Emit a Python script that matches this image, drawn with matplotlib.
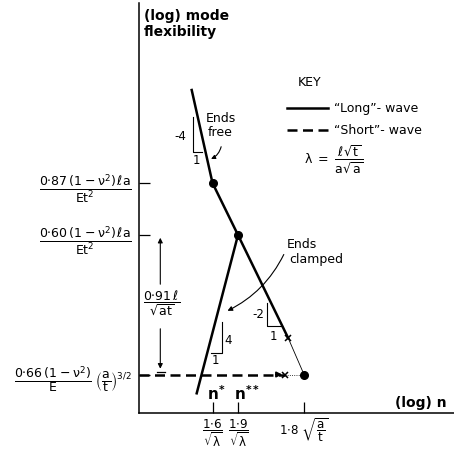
import matplotlib
matplotlib.use('Agg')
import matplotlib.pyplot as plt

plt.rcParams['font.family'] = ['DejaVu Sans']
plt.rcParams['mathtext.fontset'] = 'dejavusans'
plt.rcParams['mathtext.default'] = 'regular'

# diagram units: log n along x, log mode flexibility along y
n_star = 7.35        # 1.6/sqrt(lambda)
n_2star = 9.9        # 1.9/sqrt(lambda)
n_limit = 16.5       # 1.8 sqrt(a/t)
flex_087 = 23.0
flex_060 = 17.8
flex_066 = 3.85

free_n = [5.27, n_star, n_2star, 14.93]
free_flex = [32.3, flex_087, flex_060, 7.47]
clamped_n = [5.77, n_2star]
clamped_flex = [1.97, flex_060]
short_n = [0.0, 14.6]
short_flex = [flex_066, flex_066]

dot_n = [n_star, n_2star, n_limit]
dot_flex = [flex_087, flex_060, flex_066]
cross_n = [14.93, 14.6]
cross_flex = [7.47, flex_066]

x_ticks = [n_star, n_2star, n_limit]
x_labels = [r'$\dfrac{1{\cdot}6}{\sqrt{\lambda}}$',
            r'$\dfrac{1{\cdot}9}{\sqrt{\lambda}}$',
            r'$1{\cdot}8\ \sqrt{\dfrac{a}{t}}$']
y_ticks = [flex_066, flex_060, flex_087]
y_labels = [r'$\dfrac{0{\cdot}66\,(1-\nu^2)}{E}\ \left(\dfrac{a}{t}\right)^{3/2}$',
            r'$\dfrac{0{\cdot}60\,(1-\nu^2)\,\ell a}{Et^2}$',
            r'$\dfrac{0{\cdot}87\,(1-\nu^2)\,\ell a}{Et^2}$']

fig = plt.figure(figsize=(4.54, 4.51), dpi=100)
ax = fig.add_axes([139 / 454, 38 / 451, 315 / 454, 410 / 451])
ax.set_xlim(0, 31.5)
ax.set_ylim(0, 41.0)
for side in ['top', 'right']:
    ax.spines[side].set_visible(False)
for side in ['left', 'bottom']:
    ax.spines[side].set_linewidth(1.1)

ax.set_xticks(x_ticks)
ax.set_xticklabels(x_labels, fontsize=8.6)
ax.set_yticks(y_ticks)
ax.set_yticklabels(y_labels, fontsize=9)
ax.tick_params(axis='x', direction='in', length=8, width=0.9, pad=3)
ax.tick_params(axis='y', direction='in', length=8, width=0.9, pad=5)

long_line, = ax.plot(free_n, free_flex, color='black', lw=1.8)
ax.plot(clamped_n, clamped_flex, color='black', lw=1.8)
short_line, = ax.plot(short_n, short_flex, color='black', lw=1.8, dashes=(4, 2.2))
ax.annotate('', xy=(cross_n[1], cross_flex[1]), xytext=(cross_n[1] - 1.2, cross_flex[1]),
            arrowprops=dict(arrowstyle='-|>', color='black', lw=1.2, mutation_scale=8))
ax.plot([cross_n[0], n_limit], [cross_flex[0], flex_066], color='black', lw=0.6)
ax.plot([cross_n[1], n_limit], [cross_flex[1], flex_066], color='black', lw=0.6, ls=':')
ax.plot(dot_n, dot_flex, 'o', color='black', ms=5.5)
ax.plot(cross_n, cross_flex, 'x', color='black', ms=5, mew=1.1)

# slope markers
ax.plot([5.37, 5.37, 6.27], [29.63, 26.13, 26.13], color='black', lw=0.8)
ax.text(4.1, 27.6, '-4', fontsize=8.5, ha='center', va='center')
ax.text(5.7, 25.2, '1', fontsize=8.5, ha='center', va='center')
ax.plot([7.17, 8.27, 8.27], [5.97, 5.97, 9.13], color='black', lw=0.8)
ax.text(8.95, 7.3, '4', fontsize=8.5, ha='center', va='center')
ax.text(7.6, 5.2, '1', fontsize=8.5, ha='center', va='center')
ax.plot([12.77, 12.77, 14.27], [11.0, 8.73, 8.73], color='black', lw=0.8)
ax.text(11.9, 9.8, '-2', fontsize=8.5, ha='center', va='center')
ax.text(13.4, 7.6, '1', fontsize=8.5, ha='center', va='center')

ax.text(6.7, 29.5, 'Ends', fontsize=9, ha='left', va='center')
ax.text(6.85, 28.0, 'free', fontsize=9, ha='left', va='center')
ax.annotate('', xy=(6.95, 25.3), xytext=(8.27, 26.9),
            arrowprops=dict(arrowstyle='-|>', color='black', lw=0.8,
                            mutation_scale=6, connectionstyle='arc3,rad=-0.3'))
ax.text(14.8, 16.8, 'Ends', fontsize=9, ha='left', va='center')
ax.text(15.0, 15.3, 'clamped', fontsize=9, ha='left', va='center')
ax.annotate('', xy=(8.6, 10.1), xytext=(14.6, 16.1),
            arrowprops=dict(arrowstyle='-|>', color='black', lw=0.8,
                            mutation_scale=7, connectionstyle='arc3,rad=-0.18'))

# dimension between the two plateaus
dim_x = 2.13
ax.annotate('', xy=(dim_x, flex_060), xytext=(dim_x, 12.6),
            arrowprops=dict(arrowstyle='-|>', color='black', lw=0.8, mutation_scale=7))
ax.annotate('', xy=(dim_x, 4.15), xytext=(dim_x, 8.7),
            arrowprops=dict(arrowstyle='-|>', color='black', lw=0.8, mutation_scale=7))
ax.plot([1.75, 2.55], [4.15, 4.15], color='black', lw=0.9)
ax.text(2.27, 11.0, r'$\dfrac{0{\cdot}91\,\ell}{\sqrt{at}}$', fontsize=9,
        ha='center', va='center')

ax.text(6.8, 1.9, r'n$^{*}$', fontsize=11, fontweight='bold', ha='left', va='center')
ax.text(9.5, 1.9, r'n$^{**}$', fontsize=11, fontweight='bold', ha='left', va='center')

ax.text(0.45, 38.9, '(log) mode\nflexibility', fontsize=10, fontweight='bold',
        ha='left', va='center', linespacing=1.25, clip_on=False)
ax.text(28.2, 1.0, '(log) n', fontsize=10, fontweight='bold', ha='center', va='center')

# key
ax.text(17.1, 33.1, 'KEY', fontsize=9, ha='center', va='center')
ax.legend([long_line, short_line], ['\u201cLong\u201d- wave', '\u201cShort\u201d- wave'],
          loc='upper left', bbox_to_anchor=(14.8, 31.1), bbox_transform=ax.transData,
          frameon=False, fontsize=9, handlelength=3.3, handletextpad=0.5,
          borderpad=0, borderaxespad=0, labelspacing=0.75)
ax.text(16.5, 25.4, r'$\lambda\ =\ \dfrac{\ell\sqrt{t}}{a\sqrt{a}}$', fontsize=9,
        ha='left', va='center')

fig.savefig('out.png', dpi=100)
